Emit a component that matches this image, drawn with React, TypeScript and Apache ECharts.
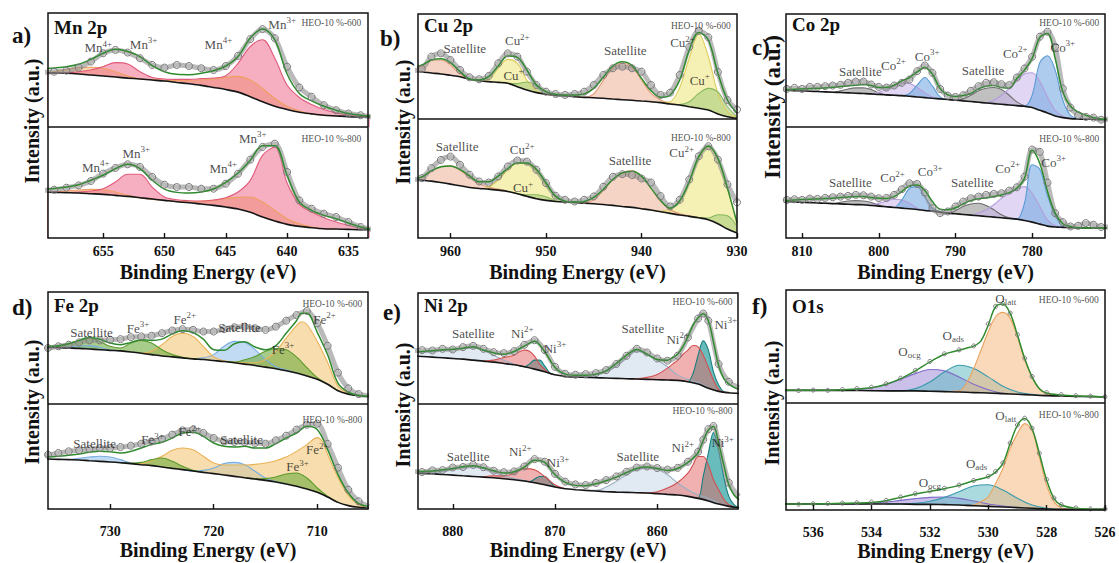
import React, { useEffect, useRef } from 'react';
import * as echarts from 'echarts';

type P = [number, number];
type L = [number, number, string];

const FONT = '"Liberation Serif","Times New Roman",Times,serif';

// ---------- a) Mn 2p ----------
const mnTopBg: P[] = [[660,47.6],[659,47.4],[658,47.1],[657,46.5],[656,45.6],[655,44.7],[654,43.8],[653,42.9],[652,42.1],[651,41.2],[650,40.3],[649,39.1],[648,37.9],[647,36.5],[646,34.7],[645,32.9],[644,30.6],[643,26.5],[642,22.1],[641,18.2],[640,15.3],[639,12.9],[638,11.5],[637,10.3],[636,9.7],[635,9.1],[634,8.8],[633,8.8]];
const mnTopEnv: P[] = [[660,51],[659,51.8],[658,52.9],[657,55],[656,59.4],[655,64.7],[654,68.2],[653,66.2],[652,61.8],[651,53.8],[650,48.5],[649,46.2],[648,45.9],[647,47.1],[646,49.4],[645,53.5],[644,61.8],[643,78],[642,86],[641,76.5],[640,46.5],[639,29.4],[638,22.9],[637,18.2],[636,14.7],[635,11.8],[634,10.3],[633,9.4]];
const mnTopData: P[] = [[660,48],[659,48.5],[658,49.4],[657,52.1],[656,57.4],[655,64.7],[654,67.6],[653,65.3],[652,60.3],[651,54.4],[650,52.1],[649,54.4],[648,53.5],[647,51.5],[646,50],[645,53.5],[644,62.4],[643,77.1],[642,85.9],[641,77.9],[640,52.9],[639,34.7],[638,26.5],[637,19.1],[636,14.7],[635,11.8],[634,10.3],[633,8.8]];
const mnTopMn4: P[] = [[660,48],[659,48.5],[658,50.6],[657,52.1],[656,52.4],[655,51.5],[654,48.5],[653,44.7],[652,42.1],[651,41.5],[650,41],[649,40.8],[648,40.8],[647,41.2],[646,42],[645,43.5],[644,44.4],[643,41.2],[642,33.8],[641,25],[640,18.2],[639,14.1],[638,11.5],[637,10.3],[636,9.7]];
const mnTopMn3: P[] = [[660,47.6],[659,47.4],[658,47.6],[657,48.5],[656,50],[655,52.9],[654,56.5],[653,55.3],[652,48.5],[651,43.5],[650,42.1],[649,41.8],[648,41.8],[647,42.4],[646,43],[645,45],[644,55.9],[643,70.6],[642,76.5],[641,60.3],[640,36.8],[639,25.9],[638,19.7],[637,15.3],[636,12.4],[635,10.6],[634,9.4],[633,8.8]];
const mnBotBg: P[] = [[660,41.4],[659,41.1],[658,40.8],[657,40.5],[656,39.9],[655,39.3],[654,38.4],[653,37.5],[652,36.3],[651,35.1],[650,33.9],[649,32.7],[648,31.8],[647,30.6],[646,29.4],[645,27.9],[644,26.1],[643,23.1],[642,18.9],[641,15.3],[640,12.3],[639,10.5],[638,9.3],[637,8.4],[636,8.1],[635,7.8],[634,7.5],[633,7.5]];
const mnBotEnv: P[] = [[660,44],[659,44.7],[658,45.9],[657,48],[656,52],[655,56.5],[654,62.5],[653,66.4],[652,62.5],[651,52],[650,44.1],[649,41.1],[648,40.5],[647,41.4],[646,44.1],[645,50.1],[644,58.6],[643,70],[642,83],[641,83],[640,56.5],[639,32.4],[638,24.9],[637,20.4],[636,17.4],[635,13.5],[634,9.9],[633,7.5]];
const mnBotData: P[] = [[660,43],[659,43.5],[658,45.3],[657,47.4],[656,51.4],[655,58],[654,63.1],[653,66.4],[652,64],[651,55],[650,48],[649,45.9],[648,45.9],[647,44.4],[646,44.4],[645,48.9],[644,57.9],[643,70.6],[642,82],[641,85],[640,59.5],[639,33.9],[638,26.4],[637,21.9],[636,18.9],[635,14.4],[634,9.9],[633,7.5]];
const mnBotMn4: P[] = [[660,41.4],[659,41.7],[658,42.3],[657,43.2],[656,43.8],[655,43.5],[654,41.4],[653,38.4],[652,36.3],[651,34.8],[650,33.9],[649,33],[648,32.4],[647,33],[646,33.9],[645,35.4],[644,36.6],[643,36.9],[642,32.4],[641,24.9],[640,17.4],[639,12.9],[638,9.9],[637,8.4],[636,8.1]];
const mnBotMn3: P[] = [[660,41.4],[659,41.1],[658,41.1],[657,41.4],[656,42.3],[655,44.4],[654,50.5],[653,57.4],[652,57.4],[651,45.9],[650,36.9],[649,34.5],[648,33.6],[647,33.3],[646,34.2],[645,36.3],[644,41.4],[643,51.9],[642,74.5],[641,82],[640,49.5],[639,30.3],[638,23.4],[637,18.3],[636,14.4],[635,11.4],[634,8.7],[633,7.5]];
const mnTopLabels: L[] = [[655.4,69.5,'Mn{s|4+}'],[651.7,72.5,'Mn{s|3+}'],[645.6,72.5,'Mn{s|4+}'],[640.4,90,'Mn{s|3+}']];
const mnBotLabels: L[] = [[655.6,63.9,'Mn{s|4+}'],[652.3,76.4,'Mn{s|3+}'],[645.2,63,'Mn{s|4+}'],[642.8,89.8,'Mn{s|3+}']];
const mnTopTag: L = [633.9, 91, 'HEO-10 %-600'];
const mnBotTag: L = [633.9, 89, 'HEO-10 %-800'];

// ---------- b) Cu 2p ----------
const cuTopBg: P[] = [[964,45.5],[963,44.8],[962,43.8],[961,42.9],[960,41.6],[959,40.3],[958,37.8],[957,36.5],[956,35.6],[955,34.9],[954,34],[953,30.8],[952,27.6],[951,25.1],[950,23.5],[949,22.5],[948,21.9],[947,21.3],[946,20.6],[945,20.3],[944,19.7],[943,19],[942,18.4],[941,17.8],[940,17.1],[939,16.5],[938,15.6],[937,14.3],[936,13.3],[935,11.7],[934,10.2],[933,8.6],[932,4.8],[931,2.2],[930,0.6]];
const cuTopEnv: P[] = [[964,49],[963,51.4],[962,56.2],[961,57.5],[960,53.7],[959,45.1],[958,38.1],[957,37.1],[956,40.3],[955,50.5],[954,60],[953,58.7],[952,46.7],[951,32.4],[950,26],[949,23.5],[948,22.9],[947,22.9],[946,23.8],[945,29.2],[944,39.7],[943,50.5],[942,54.6],[941,51.1],[940,38.7],[939,27],[938,20.6],[937,22.9],[936,37.1],[935,65.7],[934,82.5],[933,75.2],[932,43.5],[931,18.1],[930,5.4]];
const cuTopData: P[] = [[964,46],[963,47.6],[962,59.4],[961,62.5],[960,56.2],[959,46.7],[958,39.7],[957,37.8],[956,41],[955,53],[954,62.5],[953,59.4],[952,45.1],[951,32.4],[950,26],[949,23.8],[948,22.9],[947,23.8],[946,26],[945,32.4],[944,41.9],[943,48.3],[942,49.8],[941,48.3],[940,45.1],[939,32.4],[938,22.9],[937,25.1],[936,41.9],[935,68.6],[934,84],[933,77.8],[932,44.8],[931,18.1],[930,9]];
const cuTopSat: P[][] = [[[964,48],[963,50.5],[962,55.9],[961,56.2],[960,51.4],[959,42.9],[958,38],[957,36.5],[956,35.6]],[[947,21.3],[946,20.6],[945,24.1],[944,36.8],[943,48.6],[942,53.3],[941,49.5],[940,37.1],[939,24.4],[938,18.1],[937,14.9],[936,13.3]]];
const cuTopCu2: P[][] = [[[958,37.8],[957,36.8],[956,37.8],[955,48.3],[954,56.8],[953,53],[952,37.1],[951,27],[950,23.5],[949,22.5]],[[939,16.5],[938,15.8],[937,16.5],[936,30],[935,58],[934,80.9],[933,59.4],[932,24.4],[931,7],[930,1.6]]];
const cuTopCu1: P[][] = [[[955,34.9],[954,34],[953,33.7],[952,35.2],[951,32.1],[950,26],[949,22.5]],[[937,14.3],[936,13.7],[935,16.5],[934,24.4],[933,29.2],[932,25.7],[931,11.7],[930,2.2]]];
const cuBotBg: P[] = [[964,49.4],[963,48.6],[962,47.8],[961,46.6],[960,45.3],[959,43.9],[958,42.5],[957,41.6],[956,41.1],[955,40.2],[954,39.1],[953,37.2],[952,35],[951,33],[950,31.6],[949,30.7],[948,30.2],[947,29.9],[946,29.3],[945,28.8],[944,28.2],[943,27.4],[942,26.5],[941,25.7],[940,24.6],[939,23.5],[938,22.1],[937,20.7],[936,19.3],[935,18.2],[934,17],[933,15.4],[932,12],[931,7.5],[930,4.2]];
const cuBotEnv: P[] = [[964,49.5],[963,51.4],[962,56.4],[961,59.8],[960,60.6],[959,57.5],[958,52.2],[957,47.2],[956,47.2],[955,52],[954,58.4],[953,63.1],[952,63.1],[951,57.5],[950,46.4],[949,35.2],[948,31],[947,30.2],[946,30.7],[945,34.1],[944,40.8],[943,49.2],[942,54.7],[941,56.1],[940,52],[939,41.9],[938,31.6],[937,25.1],[936,31.3],[935,47.5],[934,68.4],[933,77.4],[932,67],[931,41.9],[930,12.6]];
const cuBotData: P[] = [[964,49],[963,50.3],[962,58.7],[961,65.6],[960,68.4],[959,61.5],[958,53.1],[957,47.5],[956,46.6],[955,51.7],[954,60.1],[953,65.1],[952,64.2],[951,57.3],[950,46.1],[949,35.5],[948,32.1],[947,30.7],[946,32.1],[945,34.9],[944,43],[943,51.4],[942,53.6],[941,52.8],[940,50],[939,46.6],[938,35.2],[937,26.5],[936,32.1],[935,49.2],[934,68.7],[933,77.1],[932,65.9],[931,45],[930,30]];
const cuBotSat: P[][] = [[[964,50],[963,50.8],[962,56.4],[961,59.8],[960,60.6],[959,57],[958,51.1],[957,45.5],[956,42.7],[955,41.1],[954,39.5]],[[947,29.9],[946,29.6],[945,32.1],[944,39.9],[943,48.9],[942,55],[941,56.4],[940,52],[939,41.9],[938,30.7],[937,23.7],[936,20.4],[935,18.7],[934,17.2]]];
const cuBotCu2: P[][] = [[[958,42.5],[957,41.6],[956,42.7],[955,48.9],[954,57.3],[953,62.8],[952,62.3],[951,55.9],[950,44.7],[949,35],[948,30.7],[947,29.9]],[[940,24.6],[939,23.5],[938,22.4],[937,24.3],[936,30.7],[935,46.6],[934,67.6],[933,76.8],[932,66.2],[931,40.8],[930,12.3]]];
const cuBotCu1: P[][] = [[[954,39.1],[953,37.2],[952,36.3],[951,36.3],[950,34.6],[949,31.3],[948,30.2]],[[935,18.2],[934,17.2],[933,16.8],[932,19.6],[931,18.7],[930,9.8]]];
const cuTopLabels: L[] = [[958.5,66.7,'Satellite'],[953,74.3,'Cu{s|2+}'],[953.4,41.9,'Cu{s|+}'],[941.7,64.8,'Satellite'],[935.7,72.4,'Cu{s|2+}'],[933.9,37.1,'Cu{s|+}']];
const cuBotLabels: L[] = [[959.3,76.5,'Satellite'],[952.5,74,'Cu{s|2+}'],[952.4,42.2,'Cu{s|+}'],[941.2,64.8,'Satellite'],[935.8,71.5,'Cu{s|2+}']];
const cuTopTag: L = [930.6, 88.6, 'HEO-10 %-600'];
const cuBotTag: L = [930.6, 84, 'HEO-10 %-800'];

// ---------- c) Co 2p ----------
const coTopBg: P[] = [[813,32.8],[812,32.5],[811,32.2],[810,32],[809,31.7],[808,31.4],[807,31.1],[806,30.8],[805,30.5],[804,30.2],[803,29.9],[802,29.6],[801,29.3],[800,28.7],[799,28.4],[798,28.1],[797,27.8],[796,27.2],[795,26.6],[794,26],[793,25.4],[792,24.9],[791,24.3],[790,23.7],[789,23.1],[788,22.5],[787,21.9],[786,21.3],[785,20.7],[784,20.1],[783,19.5],[782,18.9],[781,18.3],[780,17.2],[779,14.8],[778,12.4],[777,9.8],[776,8.3],[775,7.4],[774,7.1],[773,6.8],[772,6.8],[771,6.5],[770,6.5]];
const coTopEnv: P[] = [[813,33],[812,33.1],[811,33.4],[810,33.7],[809,34],[808,34.3],[807,34.6],[806,35.2],[805,35.8],[804,36.4],[803,37],[802,37.6],[801,36.7],[800,34.9],[799,34.9],[798,37],[797,40.8],[796,43.8],[795,48.8],[794,52.7],[793,46.7],[792,34],[791,28.4],[790,27],[789,27.8],[788,29.6],[787,33.7],[786,36.1],[785,36.7],[784,34.9],[783,34.3],[782,42.9],[781,50.3],[780,60.7],[779,79.3],[778,82.8],[777,60.7],[776,31.1],[775,18.3],[774,13.3],[773,10.4],[772,8.3],[771,7.1],[770,6.8]];
const coTopData: P[] = [[813,33],[812,33.7],[811,34.6],[810,33.7],[809,35.5],[808,35.5],[807,36.1],[806,36.7],[805,37.3],[804,39.1],[803,40.2],[802,40.2],[801,37.6],[800,35.5],[799,34.9],[798,36.7],[797,39.1],[796,42],[795,49.4],[794,54.4],[793,47.9],[792,33.7],[791,27.8],[790,26.6],[789,28.1],[788,32],[787,36.1],[786,39.1],[785,39.6],[784,37.9],[783,37],[782,43.8],[781,51.8],[780,62.1],[779,79.9],[778,84.3],[777,71],[776,34],[775,17.2],[774,10.4],[773,8.9],[772,8.3],[771,6.5],[770,7]];
const coTopSat: P[][] = [[[807,31.1],[806,30.8],[805,32],[804,33.7],[803,34.6],[802,34.6],[801,33.1],[800,30.2],[799,28.4],[798,28.1]],[[791,24.3],[790,23.7],[789,24.9],[788,28.1],[787,32],[786,34.3],[785,34.9],[784,33.1],[783,28.1],[782,22.2],[781,18.9],[780,17.2]]];
const coTopCo2: P[][] = [[[802,29.6],[801,29.3],[800,30.8],[799,33.1],[798,36.9],[797,39.1],[796,38.5],[795,34.9],[794,30.2],[793,26.6],[792,24.9]],[[787,21.9],[786,21.3],[785,23.7],[784,28.1],[783,34],[782,41],[781,47],[780,48],[779,40.2],[778,26.6],[777,14.8],[776,9.5],[775,7.4]]];
const coTopCo3: P[][] = [[[798,28.1],[797,27.8],[796,29.6],[795,37],[794,43.8],[793,36.1],[792,26.6],[791,24.3]],[[782,18.9],[781,18.3],[780,28.1],[779,57],[778,63],[777,50.3],[776,23.7],[775,10.4],[774,7.4],[773,6.8]]];
const coBotBg: P[] = [[813,33],[812,32.8],[811,32.5],[810,32.2],[809,31.9],[808,31.6],[807,31.3],[806,31],[805,30.7],[804,30.4],[803,30.1],[802,29.9],[801,29.3],[800,28.7],[799,28.1],[798,27.5],[797,26.9],[796,26.3],[795,25.7],[794,24.8],[793,24.2],[792,23.3],[791,22.4],[790,21.8],[789,21.2],[788,20.6],[787,20],[786,19.4],[785,18.8],[784,18.2],[783,17.6],[782,17],[781,15.8],[780,14.3],[779,12.5],[778,10.7],[777,9.9],[776,9.6],[775,9.3],[774,9],[773,9],[772,9],[771,9],[770,9]];
const coBotEnv: P[] = [[813,33.5],[812,33.7],[811,34.3],[810,34.6],[809,34.9],[808,35.2],[807,35.5],[806,35.8],[805,36.4],[804,37],[803,37.3],[802,37.3],[801,36.4],[800,35.8],[799,35.5],[798,37.3],[797,41.8],[796,46.9],[795,47.8],[794,42.7],[793,32.8],[792,26],[791,25.4],[790,27.2],[789,30.7],[788,33.7],[787,35.2],[786,36.1],[785,37.3],[784,38.8],[783,40.9],[782,44.8],[781,53.7],[780,79.1],[779,67.2],[778,41.8],[777,22.4],[776,12.8],[775,10.4],[774,9.3],[773,9],[772,9],[771,9],[770,9]];
const coBotData: P[] = [[813,34],[812,34.3],[811,34.9],[810,34.3],[809,35.5],[808,35.2],[807,36.1],[806,36.7],[805,37.3],[804,37.9],[803,38.8],[802,38.5],[801,37.3],[800,35.8],[799,36.1],[798,38.8],[797,43.9],[796,49.3],[795,48.7],[794,40.9],[793,26.9],[792,22.4],[791,23.9],[790,28.4],[789,32.8],[788,35.8],[787,37.3],[786,38.8],[785,39.7],[784,40.3],[783,42.7],[782,45.7],[781,55.2],[780,79.7],[779,77.6],[778,49.9],[777,22.4],[776,14.3],[775,10.4],[774,11],[773,13.4],[772,11.9],[771,9.9],[770,10]];
const coBotSat: P[][] = [[[807,31.3],[806,31],[805,32.2],[804,33.4],[803,33.7],[802,33.4],[801,32],[800,29.6],[799,28.1],[798,27.5]],[[792,23.3],[791,22.4],[790,24.5],[789,28.4],[788,30.7],[787,31.3],[786,29.3],[785,25.4],[784,20.9],[783,18.2],[782,17]]];
const coBotCo2: P[][] = [[[802,29.9],[801,29.6],[800,31.3],[799,33.4],[798,34.9],[797,34.3],[796,31.3],[795,26.9],[794,24.8],[793,24.2]],[[789,21.2],[788,20.6],[787,22.4],[786,25.4],[785,29.9],[784,35.8],[783,40],[782,44],[781,46.3],[780,40.3],[779,28.4],[778,16.4],[777,11],[776,9.6]]];
const coBotCo3: P[][] = [[[799,28.1],[798,27.5],[797,34.3],[796,44.8],[795,46.3],[794,37.3],[793,26.9],[792,23.3],[791,22.4]],[[783,17.6],[782,17],[781,31.3],[780,66],[779,62],[778,38],[777,20.9],[776,10.4],[775,9.3]]];
const coTopLabels: L[] = [[802.4,49.3,'Satellite'],[798.1,54.7,'Co{s|2+}'],[793.7,62.7,'Co{s|3+}'],[786.4,50.3,'Satellite'],[782.2,65.4,'Co{s|2+}'],[776,70.7,'Co{s|3+}']];
const coBotLabels: L[] = [[803.7,49.6,'Satellite'],[798.2,54.1,'Co{s|2+}'],[793.3,59.5,'Co{s|3+}'],[787.8,49.6,'Satellite'],[783.2,63,'Co{s|2+}'],[777.2,68.4,'Co{s|3+}']];
const coTopTag: L = [771.2, 92, 'HEO-10 %-600'];
const coBotTag: L = [771.2, 89, 'HEO-10 %-800'];

// ---------- d) Fe 2p ----------
const feTopBg: P[] = [[737,50.9],[736,50.6],[735,50.3],[734,50],[733,49.7],[732,49.1],[731,48.5],[730,47.9],[729,47.4],[728,46.5],[727,45.3],[726,44.1],[725,42.9],[724,42.1],[723,41.2],[722,40.3],[721,39.7],[720,38.8],[719,37.9],[718,36.8],[717,35.6],[716,34.4],[715,32.9],[714,31.5],[713,29.7],[712,27.6],[711,25],[710,22.1],[709,17.6],[708,11.8],[707,8.8],[706,7.4],[705,6.8]];
const feTopEnv: P[] = [[737,51],[736,51.5],[735,52.1],[734,53.8],[733,56.8],[732,59.7],[731,57.9],[730,54.4],[729,52.9],[728,55],[727,57.4],[726,56.8],[725,57.9],[724,62.6],[723,65.3],[722,63.8],[721,57.9],[720,48.5],[719,47.9],[718,53.8],[717,55.6],[716,50.9],[715,48.5],[714,52.1],[713,63.2],[712,74.4],[711.5,81],[711,81],[710,64],[709,44],[708,18.6],[707,10.5],[706,7.8],[705,6.8]];
const feTopData: P[] = [[737,49.5],[736,50],[735,51.5],[734,52.9],[733,55],[732,56.8],[731,56.8],[730,57.4],[729,57.9],[728,59.7],[727,60.3],[726,60.9],[725,63.2],[724,65.6],[723,66.8],[722,66.2],[721,64.7],[720,64.7],[719,66.8],[718,68.5],[717,69.1],[716,67.6],[715,66.2],[714,69.1],[713,74.4],[712,79.4],[711,83],[710,72],[709,52],[708,28],[707,14],[706,8.8],[705,7.4]];
const feTopSat: P[][] = [[[735,50.3],[734,50.9],[733,51.8],[732,52.1],[731,50.6],[730,48.2],[729,47.4]],[[722,40.3],[721,41.2],[720,44.1],[719,51.5],[718,55.9],[717,55],[716,48.5],[715,39.7],[714,33.2],[713,30.3],[712,27.6]]];
const feTopFe2: P[][] = [[[727,45.3],[726,47.1],[725,52.9],[724,60.3],[723,63.2],[722,60.3],[721,51.5],[720,42.1],[719,38.5],[718,37.6],[717,36.8],[716,36.8],[715,39.7],[714,47.1],[713,58.8],[712,70],[711.5,73.4],[711,71],[710,56],[709,37],[708,16],[707,9.5],[706,7.4]]];
const feTopFe3: P[][] = [[[737,51],[736,50.6],[735,51.5],[734,53.8],[733,56.5],[732,58.8],[731,55.9],[730,51.5],[729,50],[728,54.4],[727,56.8],[726,54.4],[725,48.5],[724,44.1],[723,41.8],[722,40.6],[721,39.7]],[[719,37.9],[718,37.5],[717,39.5],[716,42.5],[715,47],[714,49.5],[713,48.5],[712,42],[711,32.4],[710,23.5],[709,17.6],[708,11.8]]];
const feBotBg: P[] = [[737,47.9],[736,47.6],[735,47.3],[734,47],[733,46.7],[732,46],[731,45.4],[730,44.8],[729,44.1],[728,43.2],[727,42.2],[726,41.3],[725,40],[724,38.7],[723,37.5],[722,36.2],[721,34.9],[720,33.7],[719,32.4],[718,31.1],[717,29.8],[716,28.6],[715,27.3],[714,25.7],[713,23.8],[712,21.6],[711,19],[710,15.9],[709,11.4],[708,6.3],[707,3.2],[706,1.6],[705,1]];
const feBotEnv: P[] = [[737,49],[736,49.5],[735,50.2],[734,51.1],[733,52.4],[732,54],[731,54.9],[730,54.6],[729,53.3],[728,54.9],[727,58.1],[726,61.3],[725,63.5],[724,67.6],[723,72.4],[722,73],[721,69.2],[720,62.9],[719,59.7],[718,59],[717,59.7],[716,58.1],[715,58.1],[714,62.2],[713,67.6],[712,72.4],[711,78.7],[710,75.6],[709,56.5],[708,32.7],[707,15.2],[706,5.1],[705,2.5]];
const feBotData: P[] = [[737,51],[736,51.7],[735,53.3],[734,54.9],[733,55.9],[732,57.1],[731,58.1],[730,58.1],[729,59],[728,60.3],[727,62.2],[726,64.4],[725,66.7],[724,70.8],[723,74.9],[722,75.6],[721,72.4],[720,67.6],[719,64.4],[718,63.8],[717,63.5],[716,62.9],[715,62.2],[714,65.4],[713,69.8],[712,75.6],[711,80.3],[710,81.3],[709,62],[708,39.4],[707,18.4],[706,7.3],[705,2.5]];
const feBotSat: P[][] = [[[735,47.3],[734,47.2],[733,48.3],[732,49.5],[731,50.2],[730,49.5],[729,47],[728,43.8],[727,42.2]],[[723,37.5],[722,36.2],[721,36.8],[720,39.1],[719,43.2],[718,44.4],[717,42.2],[716,35.9],[715,29.5],[714,26],[713,23.8]]];
const feBotFe2: P[][] = [[[728,43.2],[727,43],[726,46],[725,50.2],[724,55.9],[723,58.1],[722,56.5],[721,50.2],[720,43.8],[719,41.9],[718,41.9],[717,41.9],[716,42.5],[715,43.8],[714,46],[713,49.5],[712,54.9],[711,61.3],[710,68],[709.5,64],[709,52],[708,30],[707,13],[706,4],[705,1.5]]];
const feBotFe3: P[][] = [[[729,44.1],[728,43.8],[727,44.4],[726,47],[725,48.6],[724,45.4],[723,40.6],[722,36.8],[721,34.9]],[[717,29.8],[716,28.6],[715,28.9],[714,30.5],[713,33.3],[712,34.3],[711,29.5],[710,20],[709,12.1],[708,6.3]]];
const feTopLabels: L[] = [[731.8,64.2,'Satellite'],[727.3,67.8,'Fe{s|3+}'],[722.8,75.8,'Fe{s|2+}'],[717.5,68.7,'Satellite'],[713.3,49.1,'Fe{s|3+}'],[709.3,75.8,'Fe{s|2+}']];
const feBotLabels: L[] = [[731.5,62.2,'Satellite'],[725.9,66,'Fe{s|3+}'],[722.3,73.6,'Fe{s|2+}'],[717.3,66,'Satellite'],[710,56.5,'Fe{s|2+}'],[711.9,40.3,'Fe{s|3+}']];
const feTopTag: L = [705.6, 89, 'HEO-10 %-600'];
const feBotTag: L = [705.6, 85, 'HEO-10 %-800'];

// ---------- e) Ni 2p ----------
const niTopBg: P[] = [[884,43.4],[883,42.8],[882,42.2],[881,41.6],[880,41],[879,40.4],[878,39.5],[877,38.6],[876,37.7],[875,36.5],[874,35.3],[873,33.5],[872,31.4],[871,29],[870,26.3],[869,24.9],[868,24.3],[867,24],[866,23.7],[865,23.4],[864,23.1],[863,22.8],[862,22.5],[861,22.2],[860,21.9],[859,21.6],[858,21.3],[857,20.1],[856,18],[855,14.1],[854,11.4],[853,10.2],[852,9.6]];
const niTopEnv: P[] = [[884,47],[883,47.3],[882,47.9],[881,48.8],[880,49.4],[879,50.3],[878,51.5],[877,48.5],[876,46.1],[875,44.9],[874,47.3],[873,52.1],[872,56.6],[871,47],[870,32.9],[869,26.9],[868,26],[867,26],[866,26.9],[865,29.9],[864,36.5],[863,44],[862,49.1],[861,44.9],[860,40.1],[859,39.5],[858.5,41.9],[858,44.9],[857.5,51.5],[857,60.5],[856.5,71],[856,77.8],[855.5,81.4],[855,74.9],[854.5,56],[854,35],[853.5,23.1],[853,18],[852.5,15],[852,13.2]];
const niTopData: P[] = [[884,48],[883,48.5],[882,48.2],[881,49.7],[880,49.1],[879,51.2],[878,52.4],[877,49.7],[876,46.7],[875,45.8],[874,47.6],[873,53.3],[872,57.5],[871,48.5],[870,33.5],[869,27.2],[868,26.3],[867,26.9],[866,27.8],[865,30.5],[864,36],[863,43.4],[862,49.7],[861,46.4],[860,41],[859,39],[858,43.5],[857,60],[856,77],[855.5,81.5],[855,75],[854,36],[853,20],[852,15]];
const niTopSat: P[][] = [[[884,46.4],[883,46.7],[882,47.3],[881,48.2],[880,49.1],[879,50],[878,50.6],[877,48.5],[876,43.9],[875,39.5],[874,35.9],[873,33.5]],[[868,24.3],[867,24],[866,26],[865,29],[864,34.1],[863,41.9],[862,47.9],[861,44.5],[860,39.5],[859,33.5],[858,26],[857,22.2],[856,19.2],[855,15]]];
const niTopNi3: P[][] = [[[873.5,34.5],[873,33.5],[872.5,35.9],[872,39.5],[871.5,39.5],[871,34.1],[870.5,28.1],[870,26.3]],[[857.5,20.5],[857,20.1],[856.5,27.5],[856,44],[855.5,56.9],[855,48.5],[854.5,29],[854,17.1],[853.5,11.1],[853,10.2]]];
const niTopNi2: P[][] = [[[877,38.6],[876,39.5],[875,41.9],[874,44],[873.5,47],[873,48.5],[872.5,47.6],[872,43.1],[871.5,35.9],[871,31.1],[870.5,27.5],[870,26.3]],[[863,22.8],[862,22.8],[861,24],[860,26.6],[859,32.3],[858.5,35.9],[858,39.5],[857.5,44.6],[857,48.5],[856.5,52.7],[856,51.5],[855.5,44],[855,32.9],[854.5,21.6],[854,13.2],[853.5,10.5],[853,10.2]]];
const niBotBg: P[] = [[884,34.2],[883,33.9],[882,33.5],[881,32.9],[880,32.3],[879,31.6],[878,31],[877,30.4],[876,29.7],[875,28.8],[874,27.8],[873,26.6],[872,25],[871,23.1],[870,20.9],[869,19.3],[868,18.4],[867,17.7],[866,17.1],[865,16.5],[864,16.1],[863,15.8],[862,15.5],[861,15.2],[860,14.6],[859,13.9],[858,13.3],[857,12],[856,10.1],[855,7.6],[854,4.7],[853,2.5],[852,1.3]];
const niBotEnv: P[] = [[884,35.5],[883,35.8],[882,36.1],[881,37.3],[880,38.6],[879,40.2],[878,41.1],[877,39.2],[876,36.4],[875,34.2],[874,35.4],[873,39.9],[872,46.5],[871,44.3],[870,32.6],[869,25.3],[868,22.5],[867,22.2],[866,24.1],[865,26.9],[864,30.4],[863,34.8],[862,38.6],[861,39.9],[860,38.6],[859,36.7],[858,38.6],[857,44.3],[856.5,48.4],[856,53.8],[855.5,65.2],[855,75.3],[854.5,78.5],[854,62.7],[853.5,42.1],[853,23.1],[852.5,13.6],[852,8.9]];
const niBotData: P[] = [[884,36],[883,35.2],[882,36.8],[881,37],[880,39.5],[879,40],[878,42],[877,39.8],[876,36.5],[875,35],[874,35.8],[873,40.5],[872,47.5],[871,45],[870,33.5],[869,26],[868,23.4],[867,22.8],[866,24.8],[865,27.5],[864,31],[863,35.5],[862,39.5],[861,40.5],[860,39],[859,37.5],[858,39.2],[857,45],[856,54.5],[855.5,66],[855,76],[854.5,79],[854,63],[853,25],[852,12]];
const niBotSat: P[][] = [[[884,34.6],[883,34.8],[882,35.1],[881,36.1],[880,37.7],[879,39.6],[878,40.5],[877,38.6],[876,35.1],[875,31.6],[874,29.1],[873,27.2],[872,25]],[[867,17.7],[866,17.7],[865,20.9],[864,26.3],[863,32.6],[862,37.3],[861,38.9],[860,37.9],[859,32.6],[858,24.7],[857,18.4],[856,13.6],[855,10.1],[854,6]]];
const niBotNi3: P[][] = [[[873,26.6],[872.5,26],[872,28.5],[871.5,31],[871,31],[870.5,26.3],[870,20.9]],[[856.5,11],[856,10.4],[855.5,31],[855,53.2],[854.5,72.8],[854,56.3],[853.5,31],[853,12],[852.5,4.1],[852,1.3]]];
const niBotNi2: P[][] = [[[877,30.4],[876,31.6],[875,31.5],[874,34],[873,38.5],[872,37.3],[871,31],[870,23.1],[869,19.3]],[[862,15.5],[861,15.2],[860,16.5],[859,19.9],[858,25.3],[857,34.2],[856.5,42.1],[856,50],[855.5,50],[855,41.8],[854.5,27.8],[854,18.4],[853.5,9.5],[853,4.1],[852.5,2]]];
const niTopLabels: L[] = [[878,63.8,'Satellite'],[873.2,63.8,'Ni{s|2+}'],[870,50.3,'Ni{s|3+}'],[861.4,68.3,'Satellite'],[858,58.4,'Ni{s|2+}'],[853.3,71.9,'Ni{s|3+}']];
const niBotLabels: L[] = [[878.5,49.7,'Satellite'],[873.4,54.4,'Ni{s|2+}'],[869.7,44,'Ni{s|3+}'],[861.9,49.7,'Satellite'],[857.5,58.2,'Ni{s|2+}'],[853.6,63,'Ni{s|3+}']];
const niTopTag: L = [852.6, 91.6, 'HEO-10 %-600'];
const niBotTag: L = [852.6, 93, 'HEO-10 %-800'];

// ---------- f) O1s ----------
const oTopBg: P[] = [[537,11.2],[536,11.2],[535,11.2],[534,10.9],[533,10.7],[532.5,10.7],[532,10.4],[531.5,10.1],[531,9.8],[530.5,9.2],[530,8.9],[529.5,8.3],[529,7.7],[528.5,7.1],[528,6.5],[527.5,6.2],[527,5.9],[526.5,5.6],[526,5.3]];
const oTopEnv: P[] = [[537,11.2],[536.5,11.2],[536,11.2],[535.5,11.2],[535,11.8],[534.5,12.4],[534,13.6],[533.5,16.6],[533,21.6],[532.5,28.4],[532,36.4],[531.5,43.2],[531,46.7],[530.75,48.5],[530.5,50.3],[530.25,55],[530,69],[529.75,85.2],[529.5,87.6],[529.25,79.3],[529,60.1],[528.75,39.3],[528.5,23.1],[528.25,12.7],[528,8.9],[527.5,7.1],[527,6.2],[526.5,5.9],[526,5.3]];
const oTopData: P[] = [[537,11.5],[536.5,11],[536,11.4],[535.5,11.2],[535,12],[534.5,12.8],[534,14],[533.5,17],[533,22],[532.5,28.8],[532,36.8],[531.5,43.5],[531,47],[530.5,50.5],[530,70],[529.75,85.5],[529.5,88],[529.25,79.5],[529,60.5],[528.75,39.6],[528.5,23.5],[528,9.2],[527.5,7.4],[527,6.5],[526.5,6.1],[526,5.5]];
const oTopOcg: P[][] = [[[535.5,11.2],[535,11.2],[534.5,12.4],[534,13.3],[533.5,16.3],[533,21],[532.5,26],[532,29.6],[531.5,28.4],[531,23.1],[530.5,16.6],[530,11.8],[529.5,8.3]]];
const oTopAds: P[][] = [[[533.5,10.9],[533,10.7],[532.5,12.7],[532,18.6],[531.5,27.5],[531,33.4],[530.5,30.5],[530,23.1],[529.5,14.8],[529,9.8],[528.5,7.7],[528,6.5]]];
const oTopLatt: P[][] = [[[531.5,10.1],[531,10.7],[530.75,17.2],[530.5,30.5],[530.25,46.7],[530,63],[529.75,76.3],[529.5,80.2],[529.25,74.9],[529,58.6],[528.75,37.9],[528.5,23.1],[528.25,12.7],[528,8.3],[527.5,6.2]]];
const oBotBg: P[] = [[537,5.6],[536,5.6],[535,5.6],[534,5.6],[533,5.6],[532.5,5.3],[532,5.3],[531.5,5],[531,4.7],[530.5,4],[530,3.4],[529.5,2.8],[529,2.2],[528.5,1.6],[528,0.9],[527.5,0.6],[527,0.6],[526,0.6]];
const oBotEnv: P[] = [[537,5.6],[536.5,5.6],[536,5.6],[535.5,5.9],[535,6.2],[534.5,6.5],[534,7.1],[533.5,8.7],[533,11.8],[532.5,14.9],[532,17.4],[531.5,19.9],[531,23],[530.5,27.3],[530,31.1],[529.75,35.4],[529.5,43.5],[529.25,62.1],[529,79.2],[528.75,85.4],[528.5,76.1],[528.25,52.8],[528,28],[527.75,10.9],[527.5,4.7],[527,1.6],[526.5,0.6],[526,0.6]];
const oBotData: P[] = [[537,5.9],[536.5,5.4],[536,5.8],[535.5,6.1],[535,6.4],[534.5,6.8],[534,7.5],[533.5,9],[533,12.2],[532.5,15.2],[532,17.8],[531.5,20.3],[531,23.3],[530.5,27.6],[530,31.5],[529.75,36],[529.5,44],[529.25,62.5],[529,79.5],[528.75,85.8],[528.5,76.5],[528.25,53],[528,28.5],[527.75,11.2],[527.5,5],[527,2],[526.5,1],[526,0.9]];
const oBotOcg: P[][] = [[[535,5.6],[534.5,5.6],[534,6.2],[533.5,7.5],[533,9],[532.5,10.6],[532,11.8],[531.5,12.1],[531,10.9],[530.5,8.4],[530,5.6],[529.5,3.7],[529,2.2]]];
const oBotAds: P[][] = [[[533.5,5.6],[533,5.6],[532.5,6.2],[532,8.1],[531.5,11.8],[531,17.1],[530.5,22.4],[530,23.6],[529.5,18.6],[529,10.9],[528.5,4.7],[528,1.6],[527.5,0.6]]];
const oBotLatt: P[][] = [[[530.75,3.8],[530.5,4.7],[530.25,7.8],[530,12.4],[529.75,24.8],[529.5,38.8],[529.25,57.5],[529,71.4],[528.75,80.7],[528.5,74.5],[528.25,49.7],[528,23.3],[527.75,7.8],[527.5,2.2],[527,0.6]]];
const oTopLabels: L[] = [[529.4,92.9,'O{u|latt}'],[531.2,60,'O{u|ads}'],[532.7,45.9,'O{u|ocg}']];
const oBotLabels: L[] = [[529.4,88.5,'O{u|latt}'],[530.4,43.8,'O{u|ads}'],[532,26.1,'O{u|ocg}']];
const oTopTag: L = [526.2, 91, 'HEO-10 %-600'];
const oBotTag: L = [526.2, 88.5, 'HEO-10 %-800'];

// ---------- styles ----------
const COL: Record<string, { fill: string; line: string }> = {
  mn4: { fill: 'rgba(244,176,112,0.55)', line: '#eea060' },
  mn3: { fill: 'rgba(238,110,140,0.55)', line: '#e25a7a' },
  cuS: { fill: 'rgba(236,170,140,0.5)', line: '#e59a7a' },
  cu2: { fill: 'rgba(238,232,130,0.6)', line: '#dccd5a' },
  cu1: { fill: 'rgba(160,200,120,0.55)', line: '#86b85e' },
  coS: { fill: 'rgba(130,130,130,0.5)', line: '#6e6e6e' },
  co2: { fill: 'rgba(200,180,235,0.55)', line: '#b39ddb' },
  co3: { fill: 'rgba(120,170,225,0.6)', line: '#5b9bd5' },
  feS: { fill: 'rgba(150,195,235,0.6)', line: '#79aee0' },
  fe2: { fill: 'rgba(244,200,120,0.6)', line: '#eab257' },
  fe3: { fill: 'rgba(110,170,60,0.6)', line: '#5a9a2c' },
  niS: { fill: 'rgba(205,220,235,0.6)', line: '#9ab0c4' },
  ni3: { fill: 'rgba(40,160,160,0.7)', line: '#167c7c' },
  ni2: { fill: 'rgba(228,100,100,0.5)', line: '#d25050' },
  oO: { fill: 'rgba(160,140,215,0.55)', line: '#7f6cc8' },
  oA: { fill: 'rgba(100,185,195,0.55)', line: '#3a9aae' },
  oL: { fill: 'rgba(244,185,130,0.55)', line: '#eaa35e' },
};

const ROW = [{ lm: 6, ng: 24 }, { lm: 15, ng: 31 }];

const PANELS: any[] = [
  { letter: 'a)', lx: 12, ly: 35, title: 'Mn 2p', ty: 27, yt: [32, 121, 20], xMin: 633.4, xMax: 659.5, ticks: [655, 650, 645, 640, 635], left: 48, width: 320, top: 13, h1: 114, h2: 111, row: 0, dots: false,
    subs: [
      { bg: mnTopBg, env: mnTopEnv, data: mnTopData, comps: [['mn4', [mnTopMn4]], ['mn3', [mnTopMn3]]], labels: mnTopLabels, tag: mnTopTag },
      { bg: mnBotBg, env: mnBotEnv, data: mnBotData, comps: [['mn4', [mnBotMn4]], ['mn3', [mnBotMn3]]], labels: mnBotLabels, tag: mnBotTag },
    ] },
  { letter: 'b)', lx: 380, ly: 38, title: 'Cu 2p', ty: 25, yt: [403, 122, 20], xMin: 930, xMax: 963.4, ticks: [960, 950, 940, 930], left: 418, width: 319, top: 14, h1: 105, h2: 119, row: 0, dots: false,
    subs: [
      { bg: cuTopBg, env: cuTopEnv, data: cuTopData, comps: [['cuS', cuTopSat], ['cu2', cuTopCu2], ['cu1', cuTopCu1]], labels: cuTopLabels, tag: cuTopTag },
      { bg: cuBotBg, env: cuBotEnv, data: cuBotData, comps: [['cuS', cuBotSat], ['cu2', cuBotCu2], ['cu1', cuBotCu1]], labels: cuBotLabels, tag: cuBotTag },
    ] },
  { letter: 'c)', lx: 752, ly: 47, title: 'Co 2p', ty: 24, yt: [772, 107, 23], xMin: 770.5, xMax: 812.1, ticks: [810, 800, 790, 780], left: 786, width: 319, top: 14, h1: 113, h2: 111, row: 0, dots: false,
    subs: [
      { bg: coTopBg, env: coTopEnv, data: coTopData, comps: [['coS', coTopSat], ['co2', coTopCo2], ['co3', coTopCo3]], labels: coTopLabels, tag: coTopTag },
      { bg: coBotBg, env: coBotEnv, data: coBotData, comps: [['coS', coBotSat], ['co2', coBotCo2], ['co3', coBotCo3]], labels: coBotLabels, tag: coBotTag },
    ] },
  { letter: 'd)', lx: 12, ly: 307, title: 'Fe 2p', ty: 305, yt: [32, 402, 20], xMin: 705.1, xMax: 736, ticks: [730, 720, 710], left: 48, width: 320, top: 292, h1: 112, h2: 105, row: 1, dots: false,
    subs: [
      { bg: feTopBg, env: feTopEnv, data: feTopData, comps: [['feS', feTopSat], ['fe2', feTopFe2], ['fe3', feTopFe3]], labels: feTopLabels, tag: feTopTag },
      { bg: feBotBg, env: feBotEnv, data: feBotData, comps: [['feS', feBotSat], ['fe2', feBotFe2], ['fe3', feBotFe3]], labels: feBotLabels, tag: feBotTag },
    ] },
  { letter: 'e)', lx: 383, ly: 312, title: 'Ni 2p', ty: 305, yt: [403, 405, 20], xMin: 852.1, xMax: 883.4, ticks: [880, 870, 860], left: 418, width: 320, top: 293, h1: 111, h2: 105, row: 1, dots: false,
    subs: [
      { bg: niTopBg, env: niTopEnv, data: niTopData, comps: [['niS', niTopSat], ['ni3', niTopNi3], ['ni2', niTopNi2]], labels: niTopLabels, tag: niTopTag },
      { bg: niBotBg, env: niBotEnv, data: niBotData, comps: [['niS', niBotSat], ['ni3', niBotNi3], ['ni2', niBotNi2]], labels: niBotLabels, tag: niBotTag },
    ] },
  { letter: 'f)', lx: 752, ly: 306, title: 'O1s', ty: 306, yt: [772, 403, 20], xMin: 526, xMax: 536.93, ticks: [536, 534, 532, 530, 528, 526], left: 786, width: 319, top: 290, h1: 113, h2: 107, row: 1, dots: true,
    subs: [
      { bg: oTopBg, env: oTopEnv, data: oTopData, comps: [['oO', oTopOcg], ['oA', oTopAds], ['oL', oTopLatt]], labels: oTopLabels, tag: oTopTag },
      { bg: oBotBg, env: oBotEnv, data: oBotData, comps: [['oO', oBotOcg], ['oA', oBotAds], ['oL', oBotLatt]], labels: oBotLabels, tag: oBotTag },
    ] },
];

const RICH = {
  s: { fontSize: 9, lineHeight: 12, verticalAlign: 'top', fontFamily: FONT, color: '#1a1a1a' },
  u: { fontSize: 9, lineHeight: 12, verticalAlign: 'bottom', fontFamily: FONT, color: '#1a1a1a' },
};

function buildOption() {
  const grid: any[] = [];
  const xAxis: any[] = [];
  const yAxis: any[] = [];
  const series: any[] = [];
  const graphic: any[] = [];
  PANELS.forEach((p, pi) => {
    p.subs.forEach((s: any, si: number) => {
      const g = pi * 2 + si;
      const bottom = si === 1;
      grid.push({ left: p.left, top: bottom ? p.top + p.h1 : p.top, width: p.width, height: bottom ? p.h2 : p.h1, containLabel: false, outerBoundsMode: 'none', show: false });
      xAxis.push({
        type: 'value', gridIndex: g, min: p.xMin, max: p.xMax, inverse: true, z: 20,
        axisLine: { show: false }, splitLine: { show: false },
        axisTick: bottom ? { show: true, inside: true, length: 5, customValues: p.ticks, lineStyle: { color: '#111', width: 1.4 } } : { show: false },
        axisLabel: bottom ? { show: true, customValues: p.ticks, margin: ROW[p.row].lm, color: '#111', fontFamily: FONT, fontWeight: 'bold', fontSize: 14 } : { show: false },
        name: bottom ? 'Binding Energy (eV)' : '', nameLocation: 'middle', nameGap: ROW[p.row].ng,
        nameTextStyle: { fontFamily: FONT, fontWeight: 'bold', fontSize: 20, color: '#111' },
      });
      yAxis.push({ type: 'value', gridIndex: g, min: 0, max: 100, show: false });
      const base = { xAxisIndex: g, yAxisIndex: g, silent: true };
      s.comps.forEach(([k, segs]: [string, P[][]]) => {
        segs.forEach((seg) => {
          series.push({ ...base, type: 'line', data: seg, smooth: 0.35, symbol: 'none', lineStyle: { color: COL[k].line, width: 1.1 }, areaStyle: { color: COL[k].fill, opacity: 1 } });
        });
      });
      series.push({ ...base, type: 'line', data: s.bg, smooth: 0.3, symbol: 'none', lineStyle: { width: 0, opacity: 0 }, areaStyle: { color: '#ffffff', opacity: 1 } });
      series.push({ ...base, type: 'line', data: s.bg, smooth: 0.3, symbol: 'none', lineStyle: { color: '#151515', width: 1.6 } });
      series.push({
        ...base, type: 'line', data: s.data, smooth: 0.3, symbol: 'circle', showSymbol: true, symbolSize: p.dots ? 4 : 7,
        itemStyle: { color: 'rgba(255,255,255,0)', borderColor: '#7a7a7a', borderWidth: 1 },
        lineStyle: p.dots ? { width: 0, opacity: 0 } : { color: 'rgba(140,140,140,0.6)', width: 5 },
      });
      series.push({ ...base, type: 'line', data: s.env, smooth: 0.35, symbol: 'none', lineStyle: { color: '#2e8b2e', width: 1.5 } });
      series.push({
        ...base, type: 'scatter', symbol: 'circle', symbolSize: 1, itemStyle: { color: 'rgba(0,0,0,0)' }, z: 10,
        data: s.labels.map((l: L) => ({ value: [l[0], l[1]], name: l[2] })),
        label: { show: true, position: 'inside', formatter: (q: any) => q.name, color: '#1a1a1a', fontFamily: FONT, fontSize: 13, lineHeight: 17, rich: RICH },
      });
      series.push({
        ...base, type: 'scatter', symbol: 'circle', symbolSize: 1, itemStyle: { color: 'rgba(0,0,0,0)' }, z: 10,
        data: [{ value: [s.tag[0], s.tag[1]], name: s.tag[2] }],
        label: { show: true, position: 'left', distance: 0, formatter: (q: any) => q.name, color: '#1a1a1a', fontFamily: FONT, fontSize: 9.5 },
      });
    });
    graphic.push({ type: 'rect', z: 100, silent: true, shape: { x: p.left, y: p.top, width: p.width, height: p.h1 + p.h2 }, style: { fill: 'none', stroke: '#111', lineWidth: 1.5 } });
    graphic.push({ type: 'line', z: 100, silent: true, shape: { x1: p.left, y1: p.top + p.h1, x2: p.left + p.width, y2: p.top + p.h1 }, style: { stroke: '#111', lineWidth: 1.5 } });
    graphic.push({ type: 'text', z: 100, x: p.left + 6, y: p.ty, style: { text: p.title, fontSize: 19, fontWeight: 'bold', fontFamily: FONT, fill: '#111', align: 'left', verticalAlign: 'middle' } });
    graphic.push({ type: 'text', z: 100, x: p.lx, y: p.ly, style: { text: p.letter, fontSize: 23, fontWeight: 'bold', fontFamily: FONT, fill: '#111', align: 'left', verticalAlign: 'middle' } });
    graphic.push({ type: 'text', z: 100, x: p.yt[0], y: p.yt[1], rotation: Math.PI / 2, style: { text: 'Intensity (a.u.)', fontSize: p.yt[2], fontWeight: 'bold', fontFamily: FONT, fill: '#111', align: 'center', verticalAlign: 'middle' } });
  });
  return { animation: false, backgroundColor: '#ffffff', grid, xAxis, yAxis, series, graphic };
}

export default function App() {
  const ref = useRef<HTMLDivElement>(null);
  useEffect(() => {
    const chart = echarts.init(ref.current as HTMLDivElement, null, { renderer: 'svg' });
    chart.setOption(buildOption() as any);
    return () => chart.dispose();
  }, []);
  return <div ref={ref} style={{ position: 'fixed', left: 0, top: 0, width: 1119, height: 563, background: '#fff' }} />;
}
